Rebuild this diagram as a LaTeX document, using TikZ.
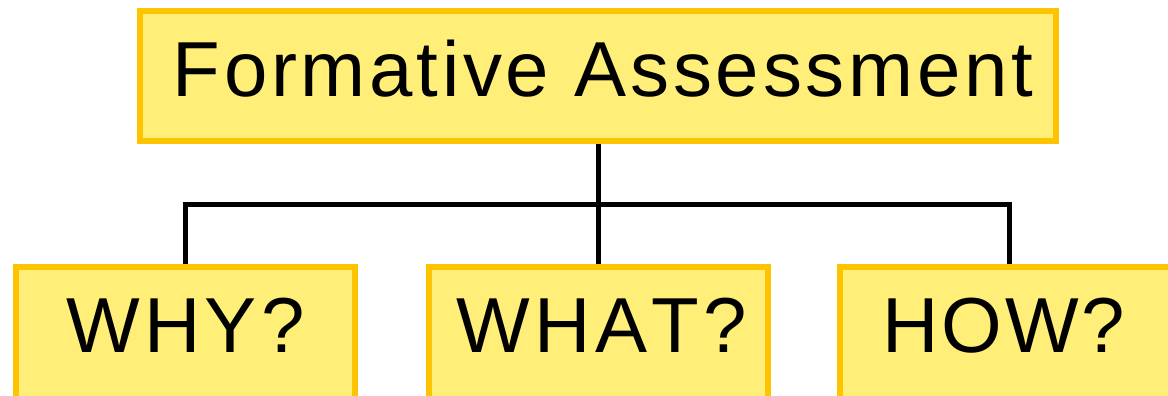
\documentclass[tikz,border=0pt]{standalone}
\usepackage{fontspec}
\setmainfont{Liberation Sans}[LetterSpace=5.5,Kerning=Off]
\definecolor{boxfill}{HTML}{FFEE77}
\definecolor{boxline}{HTML}{FFC400}
\begin{document}
\begin{tikzpicture}[x=1pt,y=-1pt,
  box/.style={draw=boxline,fill=boxfill,line width=6pt,inner sep=0pt,
    font=\fontsize{78pt}{80pt}\selectfont},
  topbox/.style={box,minimum width=916pt,minimum height=130pt,text height=56pt,text depth=16pt},
  subbox/.style={box,minimum width=339pt,minimum height=134pt,text height=56pt,text depth=20pt},
  link/.style={line width=5pt,black}]
\useasboundingbox (0,0) rectangle (1168,396);
\clip (0,0) rectangle (1168,396);
\node[topbox] (top) at (598,76) {\addfontfeatures{LetterSpace=4.8}\kern10pt Formative Assessment};
\node[subbox] (why) at (185.5,334) {WHY?};
\node[subbox] (what) at (598,334) {\kern8pt WHAT?};
\node[subbox] (how) at (1009.5,334) {\addfontfeatures{LetterSpace=3.6}HOW?\kern11pt};
\coordinate (j) at (598,204);
\draw[link] (top.south) -- (what.north);
\draw[link] (why.north) |- (j) -| (how.north);
\end{tikzpicture}
\end{document}
